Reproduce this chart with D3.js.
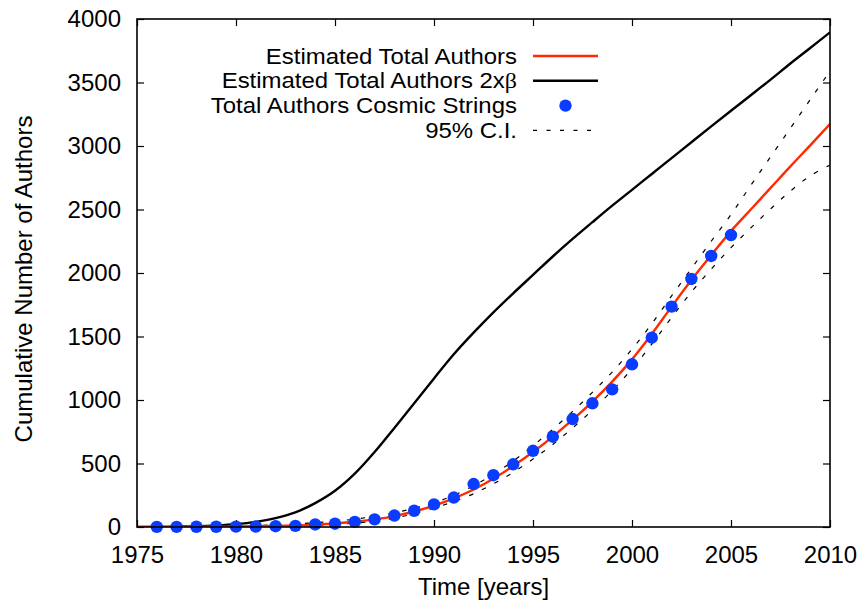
<!DOCTYPE html>
<html>
<head>
<meta charset="utf-8">
<script src="https://cdn.jsdelivr.net/npm/d3@7"></script>
<style>
  html, body { margin: 0; padding: 0; background: #fff; }
  svg { display: block; }
  text { font-family: "Liberation Sans", Arial, Helvetica, sans-serif; fill: #000; }
</style>
</head>
<body>
<svg id="chart" width="865" height="607"></svg>
<script>
// Years for the fitted curves
const curveYears = d3.range(1975, 2011);

// Fitted model: estimated total authors
const estimated = [0, 1, 1, 2, 3, 4, 6, 9, 13, 19, 28, 41, 60, 86, 122, 168, 225, 295, 380, 480,
  590, 712, 845, 988, 1145, 1320, 1520, 1735, 1945, 2140, 2330, 2500, 2670, 2840, 3005, 3173];

// Same model with doubled beta
const estimated2b = [0, 1, 3, 6, 12, 22, 40, 70, 115, 188, 285, 420, 590, 780, 975, 1170, 1360, 1530, 1690, 1840,
  1985, 2130, 2268, 2400, 2530, 2655, 2780, 2905, 3030, 3155, 3278, 3400, 3523, 3650, 3772, 3895];

// 95% confidence band
const ciUpper = [0, 1, 2, 3, 5, 8, 12, 17, 24, 34, 46, 62, 84, 112, 147, 190, 250, 325, 415, 520,
  640, 770, 910, 1060, 1220, 1400, 1600, 1820, 2035, 2250, 2460, 2690, 2915, 3140, 3365, 3590];
const ciLower = [0, 0, 1, 1, 2, 3, 4, 6, 9, 13, 20, 30, 46, 70, 105, 150, 200, 262, 340, 430,
  535, 650, 780, 920, 1075, 1245, 1440, 1650, 1850, 2030, 2200, 2355, 2505, 2645, 2765, 2850];

// Observed cumulative authors (cosmic strings)
const obsYears = d3.range(1976, 2006);
const observed = [1, 1, 2, 2, 3, 4, 6, 9, 20, 26, 40, 60, 90, 128, 178, 232, 338, 408, 494, 600,
  711, 850, 974, 1084, 1281, 1491, 1735, 1953, 2134, 2299];

const xTicks = [1975, 1980, 1985, 1990, 1995, 2000, 2005, 2010];
const yTicks = [0, 500, 1000, 1500, 2000, 2500, 3000, 3500, 4000];

const W = 865, H = 607;
const margin = { left: 137, right: 35, top: 19, bottom: 80 };
const iw = W - margin.left - margin.right;
const ih = H - margin.top - margin.bottom;

const svg = d3.select("#chart");
const g = svg.append("g").attr("transform", `translate(${margin.left},${margin.top})`);

const x = d3.scaleLinear().domain([1975, 2010]).range([0, iw]);
const y = d3.scaleLinear().domain([0, 4000]).range([ih, 0]);

const FS = 24;
const tickLen = 7;

// Axes with inward ticks, mirrored on top and right
const axB = g.append("g").attr("transform", `translate(0,${ih})`)
  .call(d3.axisBottom(x).tickValues(xTicks).tickFormat(d3.format("d")).tickSize(-tickLen).tickPadding(19));
const axT = g.append("g")
  .call(d3.axisTop(x).tickValues(xTicks).tickFormat("").tickSize(-tickLen));
const axL = g.append("g")
  .call(d3.axisLeft(y).tickValues(yTicks).tickFormat(d3.format("d")).tickSize(-tickLen).tickPadding(16));
const axR = g.append("g").attr("transform", `translate(${iw},0)`)
  .call(d3.axisRight(y).tickValues(yTicks).tickFormat("").tickSize(-tickLen));

[axB, axT, axL, axR].forEach(a => {
  a.select(".domain").remove();
  a.selectAll(".tick line").attr("stroke", "#000").attr("stroke-width", 1.2);
  a.selectAll(".tick text").attr("font-size", FS).attr("font-family", null).attr("fill", "#000");
});

const clipId = "plotclip";
g.append("clipPath").attr("id", clipId).append("rect").attr("width", iw).attr("height", ih);
const plot = g.append("g").attr("clip-path", `url(#${clipId})`);

const line = d3.line().x(d => x(d[0])).y(d => y(d[1])).curve(d3.curveCatmullRom.alpha(0.5));
const zipC = vals => curveYears.map((yr, i) => [yr, vals[i]]);

// Confidence band
[ciUpper, ciLower].forEach(vals => {
  plot.append("path").datum(zipC(vals))
    .attr("d", line).attr("fill", "none")
    .attr("stroke", "#000").attr("stroke-width", 1.2)
    .attr("stroke-dasharray", "4.5,9.5");
});

// Model curves
plot.append("path").datum(zipC(estimated2b))
  .attr("d", line).attr("fill", "none").attr("stroke", "#000").attr("stroke-width", 2.4);
plot.append("path").datum(zipC(estimated))
  .attr("d", line).attr("fill", "none").attr("stroke", "#ff2a00").attr("stroke-width", 2.4);

// Observed points
g.append("g").selectAll("circle")
  .data(obsYears.map((yr, i) => [yr, observed[i]]))
  .join("circle")
  .attr("cx", d => x(d[0])).attr("cy", d => y(d[1])).attr("r", 6.2)
  .attr("fill", "#0a3cff");

// Frame
g.append("rect").attr("width", iw).attr("height", ih)
  .attr("fill", "none").attr("stroke", "#000").attr("stroke-width", 1.6);

// Axis titles
svg.append("text")
  .attr("x", margin.left + iw / 2).attr("y", 595)
  .attr("text-anchor", "middle").attr("font-size", FS)
  .text("Time [years]");
svg.append("text")
  .attr("transform", `translate(32,${margin.top + ih / 2 + 6}) rotate(-90)`)
  .attr("text-anchor", "middle").attr("font-size", FS)
  .text("Cumulative Number of Authors");

// Legend (slightly condensed line height, glyphs widened to keep the same text width)
const legend = svg.append("g");
const legItems = [
  { label: "Estimated Total Authors", type: "line", color: "#ff2a00" },
  { label: "Estimated Total Authors 2x", beta: true, type: "line", color: "#000" },
  { label: "Total Authors Cosmic Strings", type: "dot", color: "#0a3cff" },
  { label: "95% C.I.", type: "dash", color: "#000" }
];
const LFS = 21.5, LSX = 1.115;
const legTextX = 517, legX1 = 533, legX2 = 598, legY0 = 56, legDy = 24.8;
legItems.forEach((it, i) => {
  const cy = legY0 + i * legDy;
  const t = legend.append("text")
    .attr("transform", `translate(${legTextX},${cy}) scale(${LSX},1)`)
    .attr("dy", "0.35em")
    .attr("text-anchor", "end").attr("font-size", LFS)
    .text(it.label);
  if (it.beta) {
    t.append("tspan").attr("font-family", "'Liberation Serif', 'DejaVu Serif', serif").text("β");
  }
  if (it.type === "line") {
    legend.append("line").attr("x1", legX1).attr("x2", legX2).attr("y1", cy).attr("y2", cy)
      .attr("stroke", it.color).attr("stroke-width", 2.4);
  } else if (it.type === "dot") {
    legend.append("circle").attr("cx", (legX1 + legX2) / 2).attr("cy", cy).attr("r", 6.2)
      .attr("fill", it.color);
  } else {
    legend.append("line").attr("x1", legX1).attr("x2", legX2).attr("y1", cy).attr("y2", cy)
      .attr("stroke", it.color).attr("stroke-width", 1.2).attr("stroke-dasharray", "4,9.5");
  }
});
</script>
</body>
</html>
